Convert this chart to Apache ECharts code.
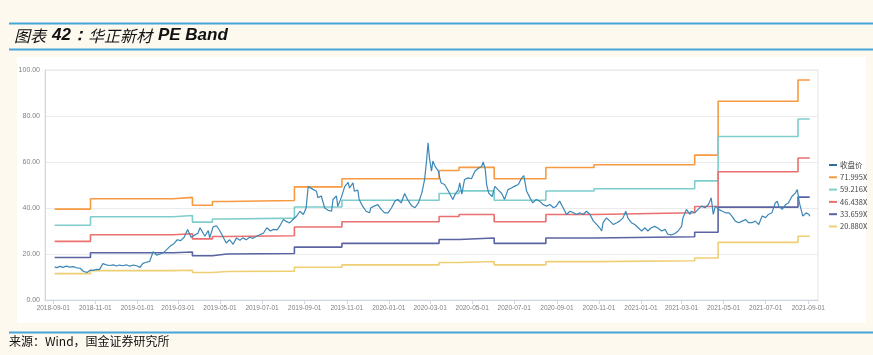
<!DOCTYPE html>
<html><head><meta charset="utf-8">
<script src="https://cdn.jsdelivr.net/npm/echarts@6/dist/echarts.min.js"></script>
<style>html,body{margin:0;padding:0;background:#fdf9ef;}#c{width:873px;height:355px;}</style>
</head><body><div id="c"></div>
<script>
// ---- data ----
const priceDates = ['2018-09-03','2018-09-06','2018-09-11','2018-09-15','2018-09-20','2018-09-25','2018-09-30','2018-10-05','2018-10-10','2018-10-15','2018-10-20','2018-10-25','2018-10-29','2018-11-03','2018-11-07','2018-11-12','2018-11-17','2018-11-22','2018-11-27','2018-12-02','2018-12-06','2018-12-11','2018-12-16','2018-12-21','2018-12-26','2018-12-31',
'2019-01-05','2019-01-09','2019-01-14','2019-01-19','2019-01-24','2019-01-29','2019-02-03','2019-02-08','2019-02-13','2019-02-18','2019-02-23','2019-02-28','2019-03-05','2019-03-10','2019-03-15','2019-03-20','2019-03-25','2019-03-30','2019-04-02','2019-04-04','2019-04-09','2019-04-14','2019-04-16','2019-04-21','2019-04-26','2019-05-01','2019-05-05','2019-05-10','2019-05-15','2019-05-20','2019-05-25','2019-05-30','2019-06-03','2019-06-08','2019-06-13','2019-06-18','2019-06-23','2019-06-28','2019-07-03','2019-07-08','2019-07-13','2019-07-18','2019-07-23','2019-07-28','2019-08-01','2019-08-05','2019-08-10','2019-08-15','2019-08-20','2019-08-25','2019-08-30','2019-09-03','2019-09-06','2019-09-08','2019-09-13','2019-09-18','2019-09-20','2019-09-25','2019-09-30','2019-10-05','2019-10-10','2019-10-12','2019-10-17','2019-10-19','2019-10-24','2019-10-29','2019-11-03','2019-11-05','2019-11-10','2019-11-12','2019-11-17','2019-11-19','2019-11-24','2019-11-29','2019-12-04','2019-12-06','2019-12-11','2019-12-16','2019-12-21','2019-12-26','2019-12-31',
'2020-01-05','2020-01-10','2020-01-14','2020-01-19','2020-01-24','2020-01-29','2020-02-03','2020-02-08','2020-02-13','2020-02-18','2020-02-22','2020-02-25','2020-02-27','2020-02-29','2020-03-03','2020-03-05','2020-03-08','2020-03-10','2020-03-13','2020-03-15','2020-03-17','2020-03-22','2020-03-25','2020-03-29','2020-04-03','2020-04-06','2020-04-11','2020-04-13','2020-04-16','2020-04-20','2020-04-25','2020-04-30','2020-05-05','2020-05-10','2020-05-15','2020-05-17','2020-05-20','2020-05-22','2020-05-25','2020-05-30','2020-06-03','2020-06-08','2020-06-13','2020-06-17','2020-06-22','2020-06-27','2020-07-02','2020-07-07','2020-07-12','2020-07-15','2020-07-19','2020-07-24','2020-07-28','2020-08-02','2020-08-07','2020-08-12','2020-08-17','2020-08-22','2020-08-27','2020-08-31','2020-09-05','2020-09-10','2020-09-15','2020-09-20','2020-09-25','2020-09-30','2020-10-04','2020-10-09','2020-10-14','2020-10-19','2020-10-24','2020-10-29','2020-11-02','2020-11-05','2020-11-07','2020-11-12','2020-11-17','2020-11-22','2020-11-27','2020-12-01','2020-12-06','2020-12-10','2020-12-13','2020-12-18','2020-12-23','2020-12-28',
'2021-01-02','2021-01-07','2021-01-11','2021-01-16','2021-01-21','2021-01-26','2021-01-31','2021-02-05','2021-02-09','2021-02-14','2021-02-19','2021-02-24','2021-03-01','2021-03-03','2021-03-08','2021-03-13','2021-03-15','2021-03-20','2021-03-25','2021-03-30','2021-04-04','2021-04-09','2021-04-13','2021-04-16','2021-04-19','2021-04-21','2021-04-24','2021-04-29','2021-05-04','2021-05-09','2021-05-13','2021-05-18','2021-05-23','2021-05-28','2021-06-02','2021-06-06','2021-06-11','2021-06-16','2021-06-21','2021-06-26','2021-07-01','2021-07-05','2021-07-10','2021-07-15','2021-07-18','2021-07-20','2021-07-25','2021-07-30','2021-08-03','2021-08-08','2021-08-13','2021-08-16','2021-08-19','2021-08-24','2021-08-29','2021-09-02','2021-09-03'];
const priceValues = [14.4,14.1,14.6,14.2,14.7,14.3,14.5,14.0,13.8,12.4,12.0,13.0,12.9,13.3,13.2,15.8,15.3,15.0,15.3,14.8,15.2,14.9,15.3,14.7,15.2,14.9,
14.2,15.9,16.4,16.8,21.0,19.5,20.0,20.6,22.0,23.5,24.5,26.2,25.8,27.3,30.7,27.3,28.2,29.0,31.4,30.8,27.7,30.2,27.0,31.8,32.3,30.0,27.7,24.8,26.2,24.2,27.0,26.0,27.0,26.2,27.3,26.8,27.7,28.4,29.0,31.4,30.0,30.7,30.5,32.8,35.0,34.2,33.5,35.0,36.4,38.6,37.2,40.0,49.3,48.5,48.1,47.3,44.5,45.2,40.0,39.0,38.6,43.7,45.2,40.7,44.5,49.3,51.1,48.7,50.9,47.3,47.8,43.7,40.8,38.6,37.9,40.1,40.8,41.5,39.4,37.9,37.9,
40.1,43.0,43.7,42.2,46.3,43.3,41.0,40.1,42.2,46.6,52.4,61.1,68.3,61.8,56.0,60.4,58.2,58.9,56.0,53.1,50.9,50.2,48.7,46.5,43.7,45.8,48.0,50.9,46.0,52.4,53.1,52.7,56.0,57.3,58.2,60.0,56.9,50.2,46.5,45.0,49.4,47.8,46.3,43.7,48.0,48.7,49.5,50.2,53.1,54.1,47.4,44.4,42.2,43.7,43.0,41.5,40.8,41.5,40.1,40.8,43.0,40.1,37.2,38.6,37.9,37.2,37.9,37.2,38.6,37.2,34.3,32.8,31.4,30.0,33.6,35.7,34.3,32.8,33.6,34.3,35.7,38.6,35.7,33.6,32.8,31.4,
30.0,31.4,30.0,31.4,32.0,31.2,30.0,30.7,28.6,28.3,28.8,30.0,32.0,35.8,39.4,37.2,38.6,37.9,39.4,40.8,40.1,41.5,44.4,37.2,40.8,41.5,39.4,38.6,37.9,37.9,36.5,34.3,33.6,34.3,35.0,33.6,33.6,34.3,32.8,36.5,35.8,37.2,37.9,42.2,42.9,40.8,39.4,41.5,42.2,45.0,46.5,48.0,42.2,36.5,37.9,37.2,36.4];

const stepDates = ['2018-09-03','2018-10-25','2019-02-22','2019-03-22','2019-04-20','2019-05-11','2019-08-17','2019-10-25','2020-03-14','2020-04-12','2020-06-02','2020-08-16','2020-10-25','2021-03-20','2021-04-23','2021-08-17','2021-09-03'];
const band71 = [39.53,43.99,44.64,41.18,42.84,43.27,49.17,52.70,56.30,57.67,52.70,57.60,58.82,63.00,86.39,95.68,95.68];
const band59 = [32.51,36.18,36.71,33.87,35.23,35.59,40.44,43.35,46.31,47.43,43.35,47.37,48.38,51.81,71.06,78.69,78.69];
const band46 = [25.49,28.37,28.79,26.56,27.63,27.91,31.72,33.99,36.31,37.20,33.99,37.15,37.94,40.63,55.73,61.72,61.72];
const band33 = [18.48,20.57,20.87,19.25,20.03,20.23,22.99,24.64,26.32,26.96,24.64,26.93,27.50,29.45,40.39,44.73,44.73];
const band20 = [11.46,12.76,12.95,11.94,12.42,12.55,14.26,15.28,16.33,16.72,15.28,16.70,17.06,18.27,25.06,27.75,27.75];

const seriesNames = ['收盘价','71.995X','59.216X','46.438X','33.659X','20.880X'];
const xTickLabels = ['2018-09-01','2018-11-01','2019-01-01','2019-03-01','2019-05-01','2019-07-01','2019-09-01','2019-11-01','2020-01-01','2020-03-01','2020-05-01','2020-07-01','2020-09-01','2020-11-01','2021-01-01','2021-03-01','2021-05-01','2021-07-01','2021-09-01'];
const yTicks = [0,20,40,60,80,100];

// ---- build ----
const toTs = s => +new Date(s + 'T00:00:00');
const pair = (ds, vs) => ds.map((d, i) => [d, vs[i]]);
const bandColors = ['#f79a42','#7ecdcc','#eb6f6f','#5b64a3','#efcf73'];
const bands = [band71, band59, band46, band33, band20];
const tickTs = xTickLabels.map(toTs);
const labelFont = "'Liberation Sans Narrow','Liberation Sans',sans-serif";

const chart = echarts.init(document.getElementById('c'), null, {renderer: 'canvas'});
const series = [{
  name: seriesNames[0], type: 'line', data: pair(priceDates, priceValues),
  symbol: 'none', lineStyle: {width: 1.2, color: '#3b87b6'}, itemStyle: {color: '#2f6f9e'}, z: 5
}];
bands.forEach((b, i) => series.push({
  name: seriesNames[i + 1], type: 'line', step: 'end', data: pair(stepDates, b),
  symbol: 'none', lineStyle: {width: 1.6, color: bandColors[i]}, itemStyle: {color: bandColors[i]}
}));

chart.setOption({
  backgroundColor: '#fdf9ef',
  animation: false,
  graphic: [
    {type: 'rect', shape: {x: 17, y: 57, width: 849, height: 266}, style: {fill: '#ffffff'}, z: -10, silent: true},
    {type: 'line', shape: {x1: 9, y1: 23.5, x2: 873, y2: 23.5}, style: {stroke: '#45a6dc', lineWidth: 2}},
    {type: 'line', shape: {x1: 9, y1: 49.5, x2: 873, y2: 49.5}, style: {stroke: '#45a6dc', lineWidth: 2}},
    {type: 'line', shape: {x1: 9, y1: 332.5, x2: 873, y2: 332.5}, style: {stroke: '#45a6dc', lineWidth: 2}},
    {type: 'text', left: 9, top: 335, style: {text: '来源：Wind，国金证券研究所', font: "12px 'Noto Sans CJK SC', sans-serif", fill: '#111'}}
  ],
  title: {
    left: 9, top: 22,
    text: '{c|图表}{e|42：}{c|华正新材}{e|PE Band}',
    textStyle: {
      rich: {
        c: {fontSize: 16, fontStyle: 'italic', fontFamily: "'Noto Sans CJK SC', sans-serif", color: '#111', fontWeight: 'normal'},
        e: {fontSize: 17, fontStyle: 'italic', fontWeight: 'bold', fontFamily: "'Liberation Sans', Arial, sans-serif", color: '#111', padding: [0, 0, 0, 6]}
      }
    }
  },
  legend: {
    orient: 'vertical', left: 824, top: 156, itemWidth: 8, itemHeight: 2, itemGap: 4.3, icon: 'rect',
    data: seriesNames,
    textStyle: {fontSize: 7.5, lineHeight: 8, color: '#444', fontFamily: "'Liberation Sans Narrow','Noto Sans CJK SC',sans-serif", padding: [0, 0, 0, -2]}
  },
  grid: {left: 45, right: 55, top: 70, bottom: 55, show: true, borderColor: '#e4e4e4', borderWidth: 1, containLabel: false},
  xAxis: {
    type: 'time', min: '2018-08-20', max: '2021-09-15',
    axisLine: {lineStyle: {color: '#cdd6e2'}},
    axisTick: {show: true, length: 4, lineStyle: {color: '#cdd6e2'}, customValues: tickTs},
    axisLabel: {customValues: tickTs, formatter: '{yyyy}-{MM}-{dd}', fontSize: 6.5, color: '#808080', margin: 5, fontFamily: labelFont, hideOverlap: false},
    splitLine: {show: false}
  },
  yAxis: {
    type: 'value', min: yTicks[0], max: yTicks[yTicks.length - 1], interval: 20,
    axisLine: {show: true, lineStyle: {color: '#cdd6e2'}},
    axisTick: {show: false},
    axisLabel: {formatter: v => v.toFixed(2), fontSize: 7, color: '#808080', margin: 5, fontFamily: labelFont},
    splitLine: {lineStyle: {color: '#ebebeb'}}
  },
  series: series
});
</script>
</body></html>
